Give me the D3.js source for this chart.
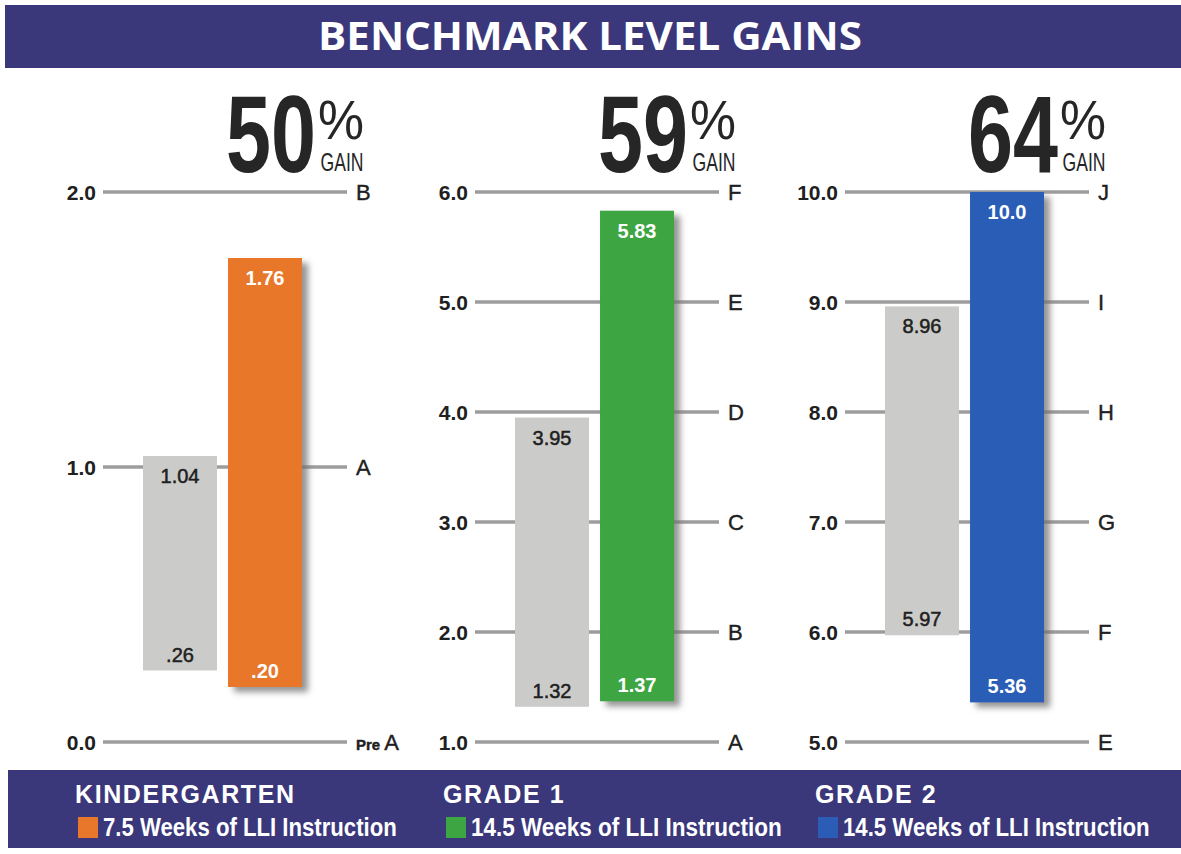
<!DOCTYPE html>
<html>
<head>
<meta charset="utf-8">
<script src="https://cdn.jsdelivr.net/npm/d3@7"></script>
<style>
  body { margin: 0; background: #ffffff; }
  svg { display: block; }
</style>
</head>
<body>
<div id="chart"></div>
<script>
// dimensions
var width = 1181;
var height = 854;

// data
var grades = ["KINDERGARTEN", "GRADE 1", "GRADE 2"];
var weeks = ["7.5 Weeks of LLI Instruction", "14.5 Weeks of LLI Instruction", "14.5 Weeks of LLI Instruction"];
var gains = [50, 59, 64];
var axisMin = [0, 1, 5];
var axisMax = [2, 6, 10];
var levelLabels = [
    ["Pre A", "A", "B"],
    ["A", "B", "C", "D", "E", "F"],
    ["E", "F", "G", "H", "I", "J"]
];
var preStart = [0.26, 1.32, 5.97];
var preEnd = [1.04, 3.95, 8.96];
var postStart = [0.20, 1.37, 5.36];
var postEnd = [1.76, 5.83, 10.0];

// styles
var navy = "#3a377b";
var barColors = ["#e8772b", "#3da542", "#2c5db6"];
var grayBar = "#cbcbc9";
var lineColor = "#9d9d9d";
var ink = "#202020";
var sans = "'Liberation Sans', Arial, sans-serif";

var lineStart = [103, 475, 845];
var lineLen = 244;
var yTop = 192;
var yBottom = 742;

// legend layout
var legendX = [75, 443, 815];
var weeksWidth = [294, 311, 307];

var svg = d3.select("#chart")
    .append("svg")
    .attr("width", width)
    .attr("height", height);

var defs = svg.append("defs");
var shadow = defs.append("filter")
    .attr("id", "shadow")
    .attr("x", "-20%").attr("y", "-10%")
    .attr("width", "150%").attr("height", "130%");
shadow.append("feDropShadow")
    .attr("dx", 6).attr("dy", 5)
    .attr("stdDeviation", 3)
    .attr("flood-color", "#6f6f6f")
    .attr("flood-opacity", 0.75);

// squeeze a text horizontally to a given width (condensed look)
function squeeze(sel, w) {
    sel.each(function (d, i) {
        var t = d3.select(this);
        var target = typeof w === "function" ? w(d, i) : w;
        var natural = this.getComputedTextLength();
        var x = +t.attr("x") || 0;
        var anchor = t.attr("text-anchor") || "start";
        var k = target / natural;
        t.attr("transform", "translate(" + x + ",0) scale(" + k + ",1) translate(" + (-x) + ",0)");
    });
}

// title bar
svg.append("rect")
    .attr("x", 5).attr("y", 5)
    .attr("width", width - 5).attr("height", 63)
    .attr("fill", navy);

svg.append("text")
    .attr("x", 590).attr("y", 50)
    .attr("text-anchor", "middle")
    .attr("font-family", "'Open Sans', sans-serif")
    .attr("font-weight", 700)
    .attr("font-size", "39px")
    .attr("fill", "#ffffff")
    .text("BENCHMARK LEVEL GAINS")
    .call(squeeze, 544);

function fmt(v) {
    if (v >= 10) return d3.format(".1f")(v);
    return d3.format(".2f")(v).replace(/^0\./, ".");
}

grades.forEach(function (grade, p) {
    var x0 = lineStart[p];
    var x1 = x0 + lineLen;

    var y = d3.scaleLinear()
        .domain([axisMin[p], axisMax[p]])
        .range([yBottom, yTop]);

    var xb = d3.scaleBand()
        .domain(["pre", "post"])
        .range([x0 + 40, x0 + 199])
        .paddingInner(0.13);

    var g = svg.append("g").attr("class", "panel" + p);

    var ticks = d3.range(axisMin[p], axisMax[p] + 1);

    // grid lines
    g.selectAll(".level")
        .data(ticks)
        .enter()
        .append("line")
        .attr("class", "level")
        .attr("x1", x0)
        .attr("x2", x1)
        .attr("y1", function (d) { return y(d); })
        .attr("y2", function (d) { return y(d); })
        .style("stroke", lineColor)
        .style("stroke-width", "3.5px");

    // left tick labels
    g.selectAll(".tickLabel")
        .data(ticks)
        .enter()
        .append("text")
        .attr("class", "tickLabel")
        .attr("x", x0 - 7)
        .attr("y", function (d) { return y(d); })
        .attr("dy", "0.36em")
        .attr("text-anchor", "end")
        .attr("font-family", sans)
        .attr("font-weight", 700)
        .attr("font-size", "21px")
        .attr("fill", ink)
        .text(function (d) { return d3.format(".1f")(d); });

    // right level labels
    var lv = g.selectAll(".levelLabel")
        .data(ticks)
        .enter()
        .append("text")
        .attr("class", "levelLabel")
        .attr("x", x1 + 9)
        .attr("y", function (d) { return y(d); })
        .attr("dy", "0.36em")
        .attr("font-family", sans)
        .attr("font-size", "22px")
        .attr("fill", ink)
        .attr("stroke", ink)
        .attr("stroke-width", 0.4);

    lv.each(function (d, i) {
        var lab = levelLabels[p][i];
        var t = d3.select(this);
        if (lab.indexOf("Pre ") === 0) {
            t.append("tspan")
                .attr("font-size", "15px")
                .attr("font-weight", 700)
                .text("Pre ");
            t.append("tspan").text(lab.slice(4));
        } else {
            t.text(lab);
        }
    });

    // bars
    var bars = [
        { key: "pre", start: preStart[p], end: preEnd[p], fill: grayBar, text: ink },
        { key: "post", start: postStart[p], end: postEnd[p], fill: barColors[p], text: "#ffffff" }
    ];

    g.selectAll(".bar")
        .data(bars)
        .enter()
        .append("rect")
        .attr("class", "bar")
        .attr("x", function (d) { return xb(d.key); })
        .attr("width", xb.bandwidth())
        .attr("y", function (d) { return y(d.end); })
        .attr("height", function (d) { return y(d.start) - y(d.end); })
        .attr("fill", function (d) { return d.fill; })
        .attr("filter", function (d) { return d.key === "post" ? "url(#shadow)" : null; });

    function barLabel(cls, valueKey, offset) {
        g.selectAll("." + cls)
            .data(bars)
            .enter()
            .append("text")
            .attr("class", cls)
            .attr("x", function (d) { return xb(d.key) + xb.bandwidth() / 2; })
            .attr("y", function (d) { return y(d[valueKey]) + offset; })
            .attr("text-anchor", "middle")
            .attr("font-family", sans)
            .attr("font-weight", function (d) { return d.key === "post" ? 700 : 400; })
            .attr("font-size", "20px")
            .attr("fill", function (d) { return d.text; })
            .attr("stroke", function (d) { return d.key === "post" ? null : d.text; })
            .attr("stroke-width", 0.5)
            .text(function (d) { return fmt(d[valueKey]); });
    }
    barLabel("topLabel", "end", 27);
    barLabel("bottomLabel", "start", -9);

    // big gain figure
    g.append("text")
        .attr("x", x1 - 31)
        .attr("y", 172)
        .attr("text-anchor", "end")
        .attr("font-family", sans)
        .attr("font-weight", 700)
        .attr("font-size", "109px")
        .attr("fill", "#262626")
        .text(gains[p])
        .call(squeeze, 90);

    g.append("text")
        .attr("x", x1 - 6)
        .attr("y", 139)
        .attr("text-anchor", "middle")
        .attr("font-family", sans)
        .attr("font-size", "56px")
        .attr("fill", "#262626")
        .text("%")
        .call(squeeze, 46);

    g.append("text")
        .attr("x", x1 - 5)
        .attr("y", 171)
        .attr("text-anchor", "middle")
        .attr("font-family", sans)
        .attr("font-size", "26px")
        .attr("fill", "#262626")
        .text("GAIN")
        .call(squeeze, 43);
});

// legend bar
svg.append("rect")
    .attr("x", 8).attr("y", 770)
    .attr("width", width - 8).attr("height", 78)
    .attr("fill", navy);

var leg = svg.selectAll(".legendItem")
    .data(grades)
    .enter()
    .append("g")
    .attr("class", "legendItem")
    .attr("transform", function (d, i) { return "translate(" + legendX[i] + ",0)"; });

leg.append("text")
    .attr("x", 0)
    .attr("y", 803)
    .attr("font-family", sans)
    .attr("font-weight", 700)
    .attr("font-size", "25px")
    .attr("letter-spacing", "1.6px")
    .attr("fill", "#ffffff")
    .text(function (d) { return d; });

leg.append("rect")
    .attr("x", 3)
    .attr("y", 817)
    .attr("width", 20)
    .attr("height", 21)
    .attr("fill", function (d, i) { return barColors[i]; });

leg.append("text")
    .attr("x", 28)
    .attr("y", 836)
    .attr("font-family", sans)
    .attr("font-weight", 700)
    .attr("font-size", "25px")
    .attr("fill", "#ffffff")
    .text(function (d, i) { return weeks[i]; })
    .call(squeeze, function (d, i) { return weeksWidth[i]; });
</script>
</body>
</html>
